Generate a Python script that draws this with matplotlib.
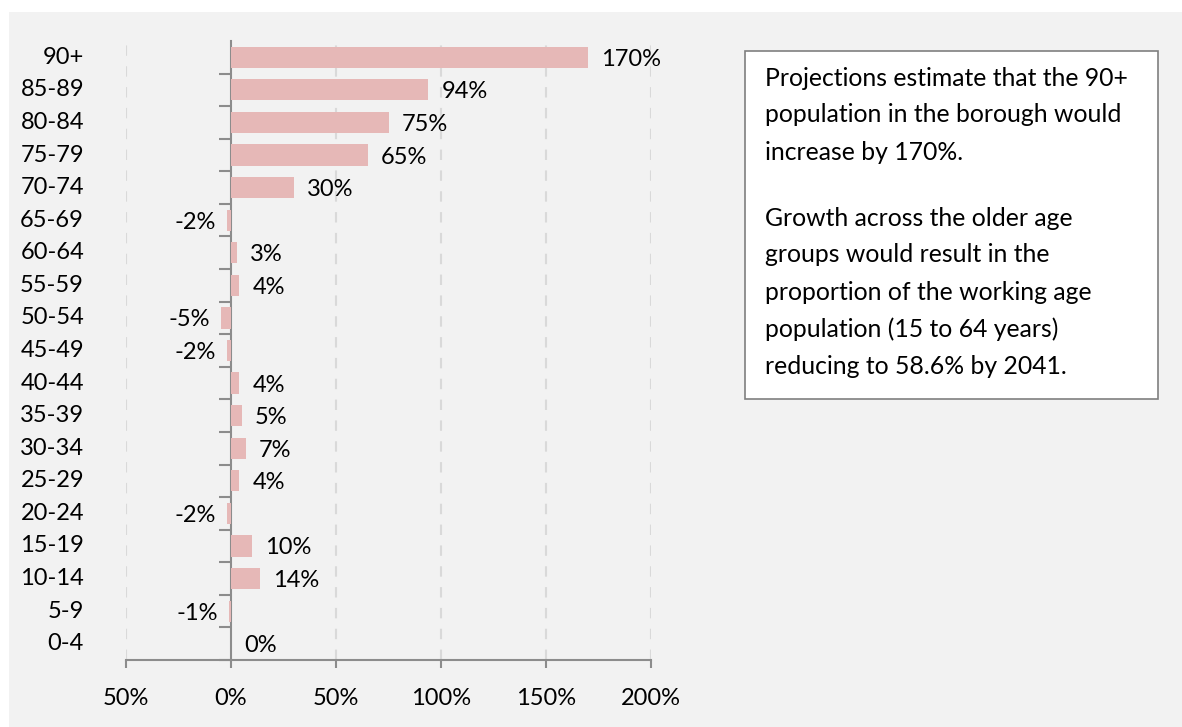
import numpy as np
import matplotlib.pyplot as plt
from matplotlib.patches import Rectangle
from matplotlib.ticker import FuncFormatter
import matplotlib.transforms as mtransforms

# --- Data: projected change by age group ---
age_groups = ["90+", "85-89", "80-84", "75-79", "70-74", "65-69", "60-64",
              "55-59", "50-54", "45-49", "40-44", "35-39", "30-34", "25-29",
              "20-24", "15-19", "10-14", "5-9", "0-4"]
change_pct = [170, 94, 75, 65, 30, -2, 3, 4, -5, -2, 4, 5, 7, 4, -2, 10, 14, -1, 0]
x_ticks = [-50, 0, 50, 100, 150, 200]

note_para1 = ["Projections estimate that the 90+",
              "population in the borough would",
              "increase by 170%."]
note_para2 = ["Growth across the older age",
              "groups would result in the",
              "proportion of the working age",
              "population (15 to 64 years)",
              "reducing to 58.6% by 2041."]

plt.rcParams['font.family'] = ['Lato', 'DejaVu Sans']
bg = "#f2f2f2"
bar_col = "#e6b8b7"
axis_col = "#8c8c8c"
fs = 17
fs_note = 17.8

fig = plt.figure(figsize=(11.82, 7.27), dpi=100)
fig.patch.set_facecolor("white")
fig.add_artist(Rectangle((9 / 1182, 0), 1, 1 - 12 / 727, transform=fig.transFigure,
                         facecolor=bg, edgecolor="none", zorder=0))

ax = fig.add_axes([126 / 1182, 1 - 660 / 727, 525 / 1182, 619 / 727])
ax.set_facecolor("none")

n = len(age_groups)
y = np.arange(n)[::-1]
ax.barh(y, change_pct, height=0.65, color=bar_col, zorder=3)

ax.set_xlim(-50, 200)
ax.set_ylim(-0.5, n - 0.5)

# value labels outside the bar end
for yi, v in zip(y, change_pct):
    if v < 0:
        ax.annotate(f"{v}%", (v, yi), xytext=(-11, -2), textcoords="offset pixels",
                    ha="right", va="center", fontsize=fs)
    else:
        ax.annotate(f"{v}%", (v, yi), xytext=(13, -2), textcoords="offset pixels",
                    ha="left", va="center", fontsize=fs)

# category labels sit at the low end, left of the plot area
trans = mtransforms.blended_transform_factory(ax.transAxes, ax.transData)
for yi, lab in zip(y, age_groups):
    ax.text(-0.08, yi, lab, transform=trans, ha="right", va="center", fontsize=fs)

# y axis drawn through zero with ticks between categories
ax.spines['left'].set_position(('data', 0))
ax.spines['left'].set_color(axis_col)
ax.spines['left'].set_linewidth(1.5)
ax.set_yticks(np.arange(n) - 0.5)
ax.set_yticklabels([])
ax.tick_params(axis='y', length=9, width=1.5, color=axis_col, direction='out')

ax.spines['bottom'].set_color(axis_col)
ax.spines['bottom'].set_linewidth(1.5)
ax.spines['top'].set_visible(False)
ax.spines['right'].set_visible(False)
ax.set_xticks(x_ticks)
ax.xaxis.set_major_formatter(FuncFormatter(lambda v, p: f"{abs(v):.0f}%"))
ax.tick_params(axis='x', length=6, width=1.5, color=axis_col, pad=14, labelsize=fs)

for xv in x_ticks:
    if xv != 0:
        ax.axvline(xv, color="#d9d9d9", lw=1.5, ls=(0, (5, 5)), zorder=1)

# text box on the right
fig.add_artist(Rectangle((745 / 1182, 1 - 399 / 727), 413 / 1182, 348 / 727,
                         transform=fig.transFigure, facecolor="white",
                         edgecolor="#7f7f7f", lw=1.2, zorder=2))
line_y = 78
for i, line in enumerate(note_para1):
    fig.text(765 / 1182, 1 - (line_y + 37 * i) / 727, line, fontsize=fs_note,
             va="center", ha="left", zorder=3)
line_y = 218
for i, line in enumerate(note_para2):
    fig.text(765 / 1182, 1 - (line_y + 37 * i) / 727, line, fontsize=fs_note,
             va="center", ha="left", zorder=3)

fig.savefig("out.png", dpi=100, facecolor=fig.get_facecolor())
